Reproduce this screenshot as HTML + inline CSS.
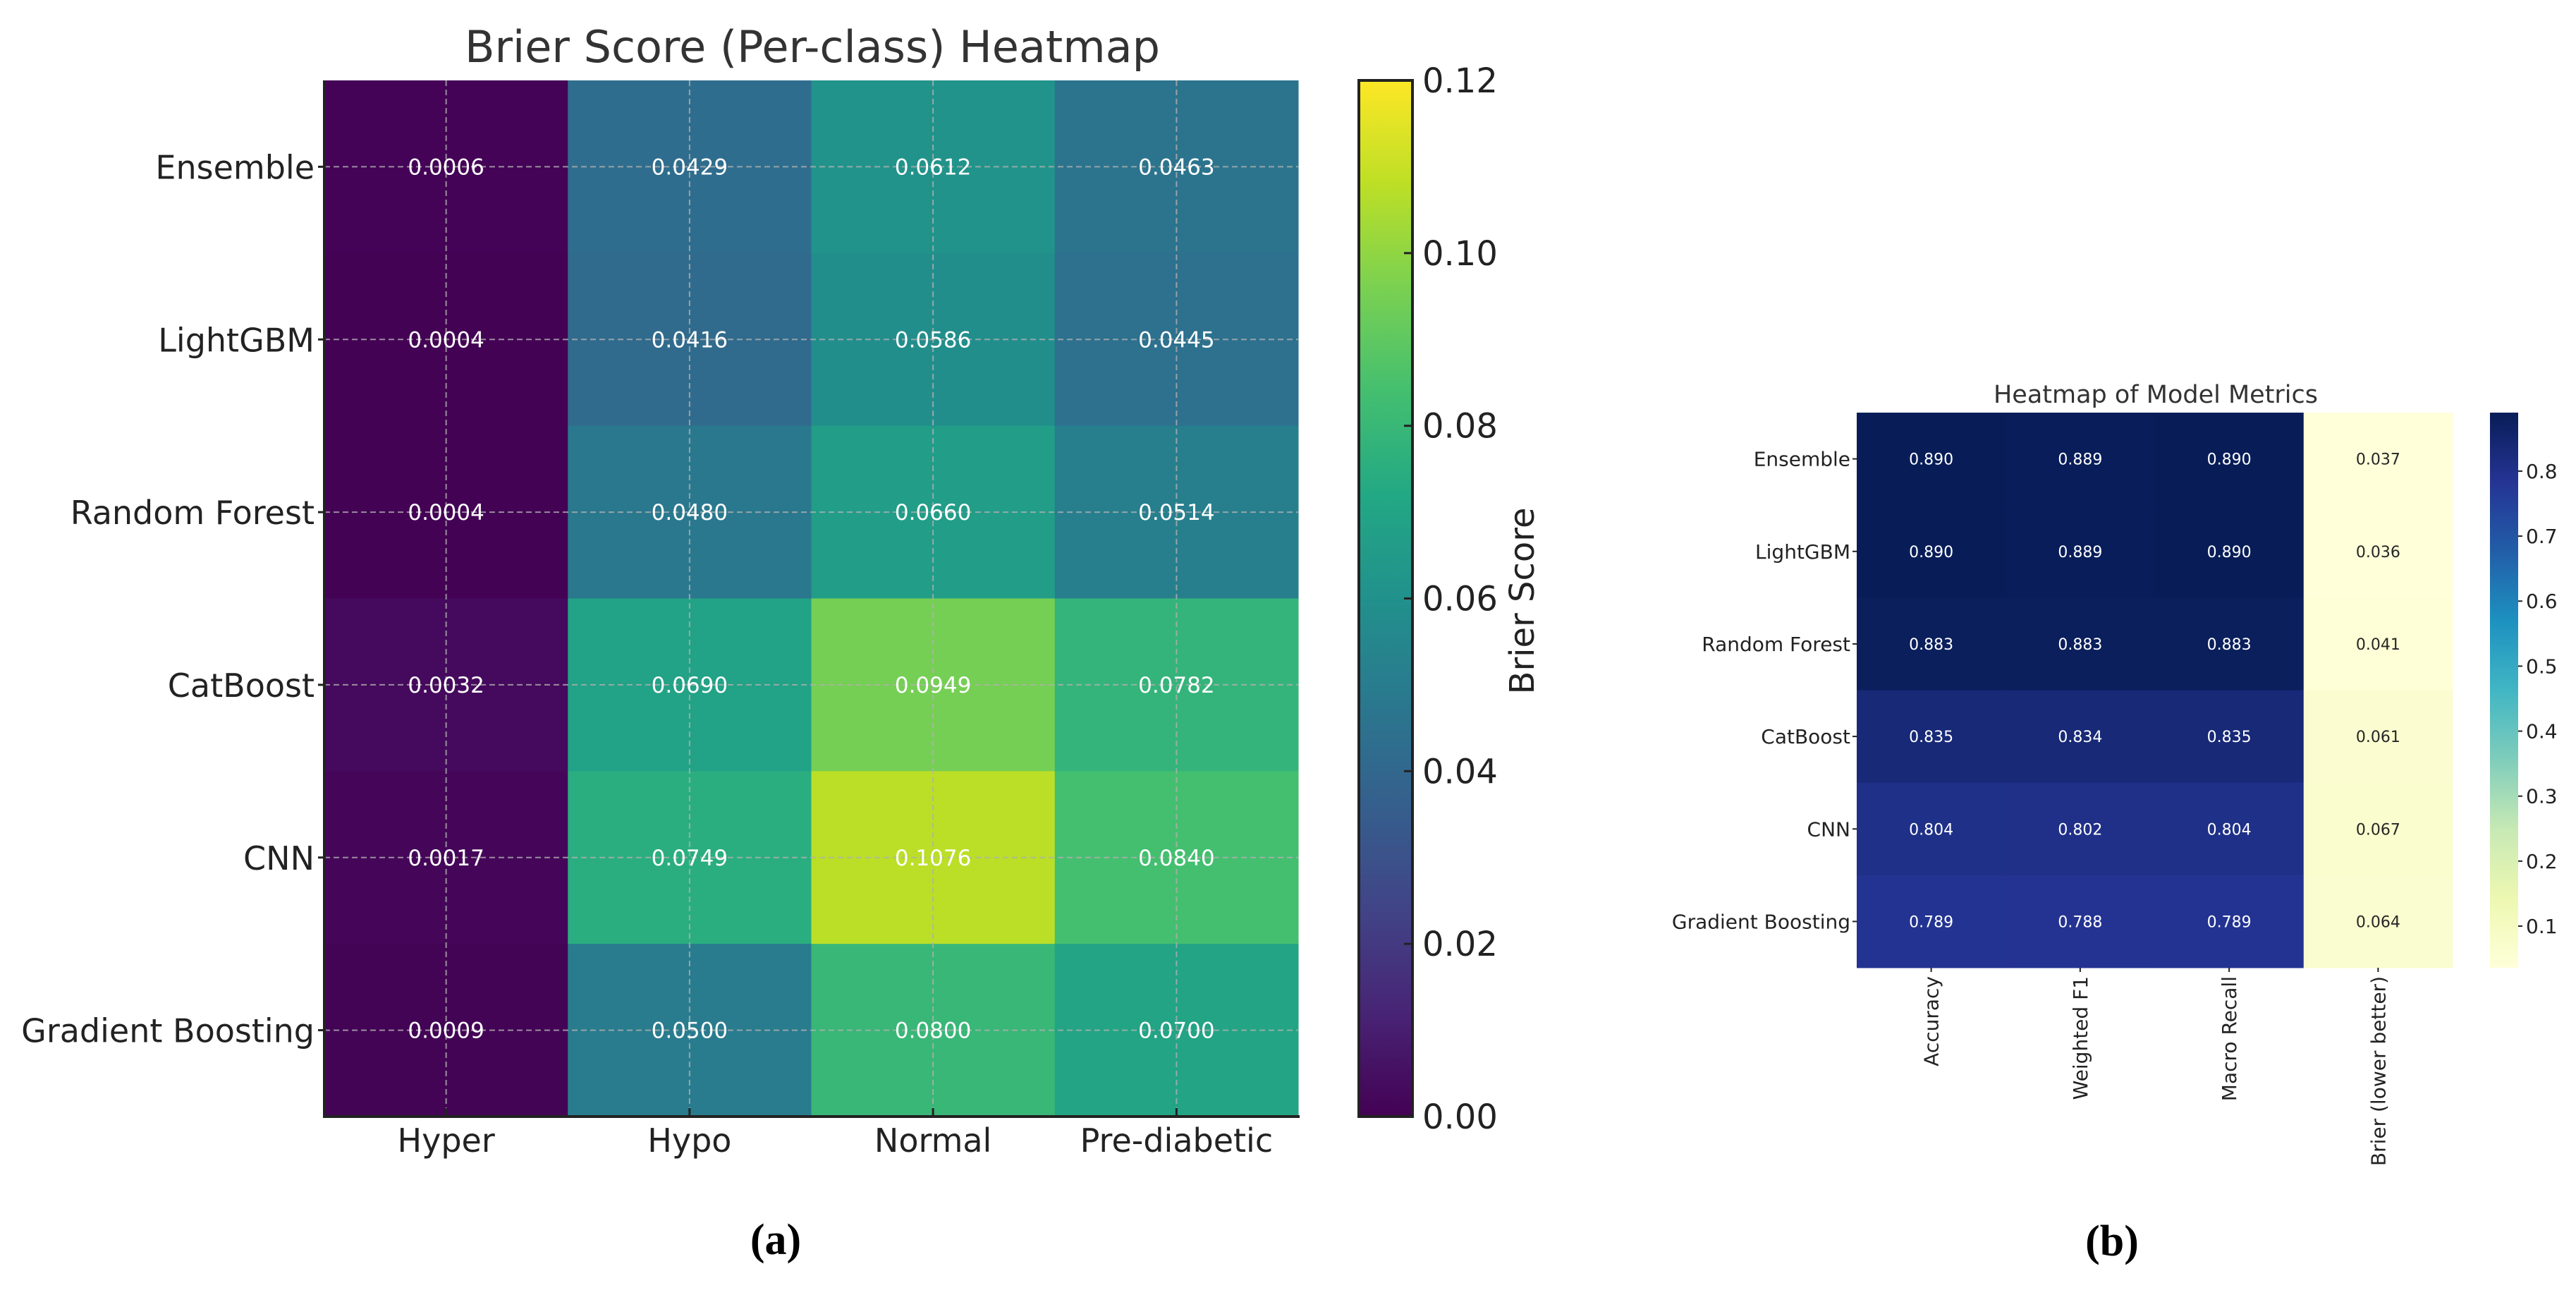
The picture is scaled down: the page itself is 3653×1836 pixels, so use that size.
<!DOCTYPE html>
<html><head><meta charset="utf-8"><style>
html,body{margin:0;padding:0;background:#fff;}
svg{display:block;}
text{font-family:"DejaVu Sans","Liberation Sans",sans-serif;}
</style></head>
<body>
<svg id="fig" width="3653" height="1836" viewBox="0 0 3653 1836" xmlns="http://www.w3.org/2000/svg">
<defs>
<linearGradient id="virGrad" x1="0" y1="1" x2="0" y2="0"></linearGradient>
<linearGradient id="ylgGrad" x1="0" y1="1" x2="0" y2="0"></linearGradient>
</defs>
<g id="pa"></g>
<g id="pb"></g>
<text x="1100" y="1778" font-weight="bold" font-size="62" text-anchor="middle" style="font-family:'Liberation Serif',serif">(a)</text>
<text x="2995" y="1780" font-weight="bold" font-size="62" text-anchor="middle" style="font-family:'Liberation Serif',serif">(b)</text>
</svg>
<script>
const NS="http://www.w3.org/2000/svg";
// ---- Panel A data ----
const modelsA=["Ensemble","LightGBM","Random Forest","CatBoost","CNN","Gradient Boosting"];
const classesA=["Hyper","Hypo","Normal","Pre-diabetic"];
const brierHyper=[0.0006,0.0004,0.0004,0.0032,0.0017,0.0009];
const brierHypo=[0.0429,0.0416,0.0480,0.0690,0.0749,0.0500];
const brierNormal=[0.0612,0.0586,0.0660,0.0949,0.1076,0.0800];
const brierPre=[0.0463,0.0445,0.0514,0.0782,0.0840,0.0700];
const cbTicksA=[0,0.02,0.04,0.06,0.08,0.10,0.12];
// ---- Panel B data ----
const modelsB=["Ensemble","LightGBM","Random Forest","CatBoost","CNN","Gradient Boosting"];
const metricsB=["Accuracy","Weighted F1","Macro Recall","Brier (lower better)"];
const accuracy=[0.890,0.890,0.883,0.835,0.804,0.789];
const weightedF1=[0.889,0.889,0.883,0.834,0.802,0.788];
const macroRecall=[0.890,0.890,0.883,0.835,0.804,0.789];
const brierAll=[0.037,0.036,0.041,0.061,0.067,0.064];
const cbTicksB=[0.1,0.2,0.3,0.4,0.5,0.6,0.7,0.8];

const VIR=["#440154","#482475","#414487","#355f8d","#2a788e","#21918c","#22a884","#44bf70","#7ad151","#bddf26","#fde725"];
const YGB=["#ffffd9","#edf8b1","#c7e9b4","#7fcdbb","#41b6c4","#1d91c0","#225ea8","#253494","#081d58"];
function hex(h){return [1,3,5].map(i=>parseInt(h.substr(i,2),16));}
function cmap(stops,t){t=Math.max(0,Math.min(1,t));const n=stops.length-1;const p=t*n;const i=Math.min(n-1,Math.floor(p));const f=p-i;const a=hex(stops[i]),b=hex(stops[i+1]);return "rgb("+a.map((v,k)=>Math.round(v+(b[k]-v)*f)).join(",")+")";}
function el(tag,attrs,parent,txt){const e=document.createElementNS(NS,tag);for(const k in attrs)e.setAttribute(k,attrs[k]);if(txt!==undefined)e.textContent=txt;parent.appendChild(e);return e;}
function grad(id,stops){const g=document.getElementById(id);stops.forEach((c,i)=>el("stop",{offset:(i/(stops.length-1)),"stop-color":c},g));}
grad("virGrad",VIR);grad("ylgGrad",YGB);

// ---- Panel A ----
(function(){
const pa=document.getElementById("pa");
const L=460,R=1841,T=114,B=1583;
const cols=[brierHyper,brierHypo,brierNormal,brierPre];
const vmin=0,vmax=0.12;
const cw=(R-L)/classesA.length, rh=(B-T)/modelsA.length;
const xC=j=>L+cw*(j+0.5), yC=i=>T+rh*(i+0.5);
el("text",{x:1152,y:88,"font-size":62,"text-anchor":"middle",fill:"#333"},pa,"Brier Score (Per-class) Heatmap");
cols.forEach((arr,j)=>arr.forEach((v,i)=>{
 const r=el("rect",{x:L+cw*j,y:T+rh*i,width:cw+0.5,height:rh+0.5,fill:cmap(VIR,(v-vmin)/(vmax-vmin))},pa);
 
 
}));
for(let j=0;j<classesA.length;j++){const g=el("line",{x1:xC(j),x2:xC(j),y1:T,y2:B,stroke:"#b0b0b0","stroke-width":2,"stroke-dasharray":"8,5",opacity:0.8},pa);}
for(let i=0;i<modelsA.length;i++){const g=el("line",{x1:L,x2:R,y1:yC(i),y2:yC(i),stroke:"#b0b0b0","stroke-width":2,"stroke-dasharray":"8,5",opacity:0.8},pa);}
cols.forEach((arr,j)=>arr.forEach((v,i)=>{
 const t=el("text",{x:xC(j),y:yC(i)+11,"font-size":31,"text-anchor":"middle",fill:"#fff"},pa,v.toFixed(4));
 
 
}));
el("line",{x1:L,x2:L,y1:T,y2:B+2,stroke:"#222","stroke-width":4},pa);
el("line",{x1:L-2,x2:R+2,y1:B,y2:B,stroke:"#222","stroke-width":4},pa);
modelsA.forEach((m,i)=>{
 el("line",{x1:L-9,x2:L,y1:yC(i),y2:yC(i),stroke:"#222","stroke-width":3},pa);
 const t=el("text",{x:L-14,y:yC(i)+17,"font-size":46,"text-anchor":"end",fill:"#222"},pa,m);
 
 
});
classesA.forEach((c,j)=>{
 el("line",{x1:xC(j),x2:xC(j),y1:B-12,y2:B,stroke:"#222","stroke-width":3},pa);
 const t=el("text",{x:xC(j),y:1633,"font-size":46,"text-anchor":"middle",fill:"#222"},pa,c);
 
 
});
const cL=1927,cR=2003;
el("rect",{x:cL,y:T,width:cR-cL,height:B-T,fill:"url(#virGrad)",stroke:"#222","stroke-width":4},pa);
const cy=v=>B-(v-vmin)/(vmax-vmin)*(B-T);
cbTicksA.forEach(v=>{
 el("line",{x1:cR-12,x2:cR,y1:cy(v),y2:cy(v),stroke:"#222","stroke-width":3},pa);
 const t=el("text",{x:2017,y:cy(v)+17,"font-size":48,fill:"#222"},pa,v.toFixed(2));
 
 
});
const bl=el("text",{x:0,y:0,"font-size":48,"text-anchor":"middle",fill:"#222",transform:"translate(2175,852) rotate(-90)"},pa,"Brier Score");


})();

// ---- Panel B ----
(function(){
const pb=document.getElementById("pb");
const L=2633,R=3478,T=585,B=1372;
const cols=[accuracy,weightedF1,macroRecall,brierAll];
const all=cols.flat();const vmin=Math.min(...all),vmax=Math.max(...all);
const cw=(R-L)/metricsB.length, rh=(B-T)/modelsB.length;
const xC=j=>L+cw*(j+0.5), yC=i=>T+rh*(i+0.5);
el("text",{x:3057,y:571,"font-size":35,"text-anchor":"middle",fill:"#333"},pb,"Heatmap of Model Metrics");
cols.forEach((arr,j)=>arr.forEach((v,i)=>{
 const t01=(v-vmin)/(vmax-vmin);
 const r=el("rect",{x:L+cw*j,y:T+rh*i,width:cw+0.5,height:rh+0.5,fill:cmap(YGB,t01)},pb);
 
 
 const t=el("text",{x:xC(j),y:yC(i)+8,"font-size":22,"text-anchor":"middle",fill:t01>0.5?"#fff":"#262626"},pb,v.toFixed(3));
 
 
}));
modelsB.forEach((m,i)=>{
 el("line",{x1:L-6,x2:L,y1:yC(i),y2:yC(i),stroke:"#222","stroke-width":2},pb);
 const t=el("text",{x:L-9,y:yC(i)+10,"font-size":28,"text-anchor":"end",fill:"#222"},pb,m);
 
 
});
metricsB.forEach((m,j)=>{
 el("line",{x1:xC(j),x2:xC(j),y1:B,y2:B+6,stroke:"#222","stroke-width":2},pb);
 const t=el("text",{x:0,y:0,"font-size":28,"text-anchor":"end",fill:"#222",transform:`translate(${xC(j)+10},${B+12}) rotate(-90)`},pb,m);
 
 
});
const cL=3531,cR=3571;
el("rect",{x:cL,y:T,width:cR-cL,height:B-T,fill:"url(#ylgGrad)"},pb);
const cy=v=>B-(v-vmin)/(vmax-vmin)*(B-T);
cbTicksB.forEach(v=>{
 el("line",{x1:cR,x2:cR+6,y1:cy(v),y2:cy(v),stroke:"#222","stroke-width":2},pb);
 const t=el("text",{x:cR+11,y:cy(v)+10,"font-size":28,fill:"#222"},pb,v.toFixed(1));
 
 
});
})();
</script>
</body></html>
